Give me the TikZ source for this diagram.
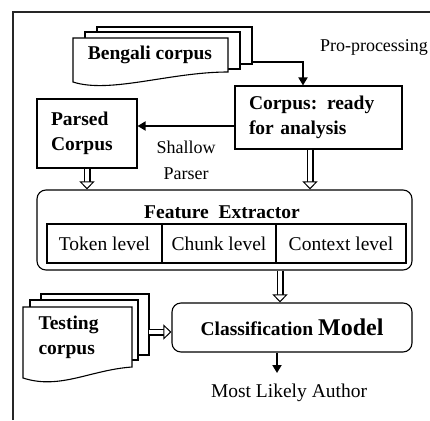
\documentclass[tikz,border=0pt]{standalone}
\usepackage{fontspec}
\setmainfont{Liberation Serif}
\usepackage{tikz}
\usetikzlibrary{arrows.meta}

\begin{document}
\begin{tikzpicture}[x=1pt, y=-1pt,
        every node/.style={font=\fontsize{19.5}{25}\selectfont},
        box/.style={draw, line width=1.1pt, fill=white},
        rbox/.style={box, rounded corners=9pt},
        cell/.style={draw, line width=1.1pt, minimum height=39pt, inner sep=0pt},
        sheet/.style={draw, line width=1.1pt, fill=white},
        heavy/.style={line width=1.8pt, -{Triangle[width=9pt, length=8pt]}},
        % open block arrow: black shaft, white core, then the open head
        hollow/.style={line width=7pt, shorten >=7pt,
            postaction={draw=white, line width=4.8pt, shorten >=7pt},
            postaction={draw=white, line width=0.1pt, shorten >=0pt,
                -{Triangle[open, color=black, fill=white, line width=1pt, width=15pt, length=8pt]}}}]
    \useasboundingbox (0,0) rectangle (430,420);
    \draw [line width=1.3pt, black!85] (13,420) -- (13,12) -- (430,12);

    % corpus sheets
    \draw [sheet] (97,27) rectangle (252,64);
    \draw [sheet] (85,32) rectangle (240,69);
    \draw [sheet] (73,38) -- (228,38) -- (228,72) .. controls (170,72) and (110,94) .. (73,82) -- cycle;
    \node (bengali) at (150, 55) {\textbf{Bengali corpus}};
    \coordinate (stack) at (252,27);

    \node (pre) at (374, 47) [font=\fontsize{18}{25}\selectfont] {Pro-processing};

    \node (ready) at (318.5, 117.5) [box, minimum width=167pt, minimum height=63pt,
        text width=139pt, inner xsep=14pt, align=left] {\textbf{Corpus: ready}\\\textbf{for analysis}};
    \node (parsed) at (87, 133.5) [box, minimum width=100pt, minimum height=69pt,
        text width=72pt, inner xsep=14pt, align=left] {\textbf{Parsed}\\\textbf{Corpus}};
    \node (shallow) at (186, 160) [align=center, font=\fontsize{18}{26}\selectfont] {Shallow\\Parser};

    % feature extractor
    \node (fe) at (224.5, 230) [rbox, minimum width=375pt, minimum height=80pt] {};
    \node (fetitle) at (222, 212) {\textbf{Feature\ \ Extractor}};
    \node (token) at (104.5, 243.5) [cell, minimum width=115pt] {Token level};
    \node (chunk) at (219, 243.5) [cell, minimum width=114pt] {Chunk level};
    \node (context) at (341, 243.5) [cell, minimum width=130pt] {Context level};

    % testing sheets
    \draw [sheet] (41,294) rectangle (149,355);
    \draw [sheet] (30,300) rectangle (138,360);
    \draw [sheet] (23,307) -- (132,307) -- (132,367) .. controls (90,370) and (60,390) .. (23,378) -- cycle;
    \node (testing) at (35, 337) [anchor=west, align=left] {\textbf{Testing}\\\textbf{corpus}};
    \coordinate (tstack) at (149,332);

    \node (cls) at (292, 327.5) [rbox, minimum width=240pt, minimum height=49pt]
        {\textbf{Classification {\fontsize{24}{24}\selectfont Model}}};
    \node (author) at (289, 393) {Most Likely Author};

    \draw [heavy] (stack) -- ++(0,35) -| (303,0 |- ready.north);
    \draw [heavy] (ready.west |- 0,126) -- (parsed.east |- 0,126);
    \draw [hollow] (parsed.south) -- (parsed.south |- fe.north);
    \draw [hollow] (310,0 |- ready.south) -- (310,0 |- fe.north);
    \draw [hollow] (280,0 |- fe.south) -- (280,0 |- cls.north);
    \draw [hollow] (tstack) -- (cls.west |- tstack);
    \draw [heavy] (277,0 |- cls.south) -- (277,373);
\end{tikzpicture}
\end{document}
